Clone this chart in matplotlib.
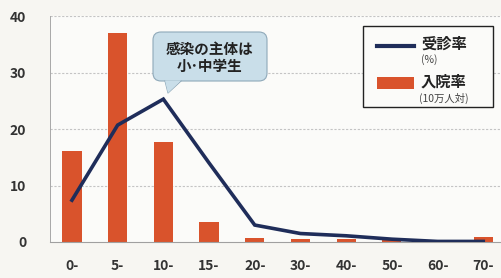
import matplotlib
matplotlib.use("Agg")
import matplotlib.pyplot as plt
from matplotlib.patches import FancyBboxPatch, Polygon

plt.rcParams['font.family'] = ['Noto Sans CJK JP', 'DejaVu Sans']

categories = ["0-", "5-", "10-", "15-", "20-", "30-", "40-", "50-", "60-", "70-"]
hosp_rate = [16.1, 37.0, 17.7, 3.5, 0.7, 0.5, 0.5, 0.3, 0.1, 0.9]
visit_rate = [7.4, 20.7, 25.3, 14.0, 3.0, 1.5, 1.1, 0.5, 0.1, 0.1]
yticks = [0, 10, 20, 30, 40]

bg = "#f7f6f2"
fig = plt.figure(figsize=(5.02, 2.78), dpi=100, facecolor=bg)
ax = fig.add_axes([0.0996, 0.1295, 0.9004, 0.8125])
ax.set_facecolor("#fbfbf9")

x = list(range(len(categories)))
ax.bar(x, hosp_rate, width=0.42, color="#d9532c", zorder=2)
ax.plot(x, visit_rate, color="#1f2d5a", lw=2.6, zorder=3, solid_joinstyle="miter")

ax.set_xlim(-0.48, 9.41)
ax.set_ylim(0, 40)
ax.set_yticks(yticks)
ax.set_xticks(x)
ax.set_xticklabels(categories)
for y in yticks[1:]:
    ax.axhline(y, color="#c4c4c4", lw=0.8, ls=(0, (2, 1.5)), zorder=1)
for s in ["top", "right"]:
    ax.spines[s].set_visible(False)
ax.spines["left"].set_color("#a8a8a8")
ax.spines["left"].set_linewidth(0.7)
ax.spines["bottom"].set_color("#a0a0a0")
ax.spines["bottom"].set_linewidth(0.8)
ax.tick_params(axis="both", length=0, labelsize=10, colors="#333333")
ax.tick_params(axis="x", pad=12)
ax.tick_params(axis="y", pad=17)
for lab in ax.get_xticklabels() + ax.get_yticklabels():
    lab.set_fontweight("bold")

# callout
box = FancyBboxPatch((153, 278 - 81), 114, 49, boxstyle="round,pad=0,rounding_size=8",
                     transform=None, facecolor="#c9dee9", edgecolor="#8fa9b9", lw=0.8, zorder=5)
fig.patches.append(box)
tail = Polygon([[165, 278 - 80.5], [181, 278 - 80.5], [168, 278 - 93]], closed=True, transform=None,
               facecolor="#c9dee9", edgecolor="none", zorder=6)
fig.patches.append(tail)
fig.lines.append(plt.Line2D([165, 168, 181], [278 - 81, 278 - 93, 278 - 81], transform=None,
                            color="#8fa9b9", lw=0.8, zorder=6))
fig.text(210 / 502, (278 - 49) / 278, "感染の主体は", ha="center", va="center",
         fontsize=10.5, fontweight="bold", color="#222222", zorder=7)
fig.text(210 / 502, (278 - 66) / 278, "小･中学生", ha="center", va="center",
         fontsize=10.5, fontweight="bold", color="#222222", zorder=7)

# legend
leg = plt.Rectangle((363, 278 - 107), 130, 81, transform=None, facecolor="#fbfbf9",
                    edgecolor="#222222", lw=1.0, zorder=5)
fig.patches.append(leg)
fig.lines.append(plt.Line2D([377 / 502, 414 / 502], [(278 - 46) / 278] * 2, color="#1f2d5a",
                            lw=3, transform=fig.transFigure, zorder=6))
fig.patches.append(plt.Rectangle((377, 278 - 89), 37, 12, transform=None,
                                 facecolor="#d9532c", edgecolor="none", zorder=6))
fig.text(421 / 502, (278 - 44) / 278, "受診率", ha="left", va="center", fontsize=11,
         fontweight="bold", color="#222222", zorder=7)
fig.text(421 / 502, (278 - 60) / 278, "(%)", ha="left", va="center", fontsize=7.5,
         color="#444444", zorder=7)
fig.text(421 / 502, (278 - 82) / 278, "入院率", ha="left", va="center", fontsize=11,
         fontweight="bold", color="#222222", zorder=7)
fig.text(419 / 502, (278 - 98) / 278, "(10万人対)", ha="left", va="center", fontsize=7.5,
         color="#444444", zorder=7)

fig.savefig("out.png", dpi=100, facecolor=bg)
